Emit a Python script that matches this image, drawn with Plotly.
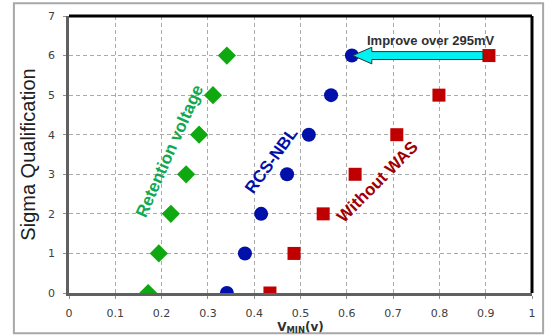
import plotly.graph_objects as go

sigma = [0, 1, 2, 3, 4, 5, 6]
retention_v = [0.171, 0.194, 0.220, 0.253, 0.281, 0.311, 0.341]
rcs_nbl_v = [0.341, 0.380, 0.415, 0.471, 0.518, 0.566, 0.611]
without_was_v = [0.434, 0.486, 0.549, 0.618, 0.708, 0.799, 0.907]
x_ticks = [0, 0.1, 0.2, 0.3, 0.4, 0.5, 0.6, 0.7, 0.8, 0.9, 1]
x_tick_text = ["0", "0.1", "0.2", "0.3", "0.4", "0.5", "0.6", "0.7", "0.8", "0.9", "1"]
y_ticks = [0, 1, 2, 3, 4, 5, 6, 7]

GREEN = "#10A810"
BLUE = "#0010A8"
RED = "#C00000"
LAB = "Liberation Sans"

fig = go.Figure()
fig.add_trace(go.Scatter(x=retention_v, y=sigma, mode="markers",
                         marker=dict(symbol="diamond", size=14, color=GREEN)))
fig.add_trace(go.Scatter(x=rcs_nbl_v, y=sigma, mode="markers",
                         marker=dict(symbol="circle", size=14, color=BLUE)))
fig.add_trace(go.Scatter(x=without_was_v, y=sigma, mode="markers",
                         marker=dict(symbol="square", size=13, color=RED)))

# Arrow from "without WAS" to "RCS-NBL" at sigma 6
tip = rcs_nbl_v[6] + 0.002
tail = without_was_v[6] - 0.013
yc = sigma[6]
hb = tip + 0.041
sh, hh = 0.10, 0.21
path = (f"M {tail},{yc+sh} L {hb},{yc+sh} L {hb},{yc+hh} L {tip},{yc} "
        f"L {hb},{yc-hh} L {hb},{yc-sh} L {tail},{yc-sh} Z")
shapes = [
    dict(type="path", path=path, xref="x", yref="y", fillcolor="#00F2F2",
         line=dict(color="#303030", width=1)),
    # outer frame
    dict(type="rect", xref="paper", yref="paper", x0=-0.119, x1=1.024, y0=-0.145, y1=1.046,
         line=dict(color="#A8A8A8", width=2), layer="below"),
    # top & right black frame
    dict(type="line", xref="paper", yref="paper", x0=0, x1=1, y0=1, y1=1,
         line=dict(color="#000000", width=3)),
    dict(type="line", xref="paper", yref="paper", x0=1, x1=1, y0=0, y1=1,
         line=dict(color="#000000", width=3)),
]

annotations = [
    dict(x=0.781, y=6.38, xref="x", yref="y", text="<b>Improve over 295mV</b>",
         showarrow=False, font=dict(family=LAB, size=13, color="#303030")),
    dict(x=0.218, y=3.6, xref="x", yref="y", text="<b>Retention voltage</b>",
         showarrow=False, textangle=-66, font=dict(family=LAB, size=17, color="#10A850")),
    dict(x=0.437, y=3.35, xref="x", yref="y", text="<b>RCS-NBL</b>",
         showarrow=False, textangle=-54, font=dict(family=LAB, size=17, color=BLUE)),
    dict(x=0.667, y=2.82, xref="x", yref="y", text="<b>Without WAS</b>",
         showarrow=False, textangle=-45, font=dict(family=LAB, size=17, color="#A00000")),
]

fig.update_layout(
    width=550, height=336,
    margin=dict(l=69, r=18, t=16, b=43),
    paper_bgcolor="white", plot_bgcolor="white",
    showlegend=False,
    shapes=shapes, annotations=annotations,
    font=dict(family="DejaVu Sans", size=11, color="#404040"),
    xaxis=dict(range=[0, 1], tickvals=x_ticks, ticktext=x_tick_text,
               automargin=False,
               showgrid=True, gridcolor="#AAAAAA", griddash="4px,3px", gridwidth=1.3,
               showline=True, linecolor="#606060", linewidth=2.5,
               ticks="outside", ticklen=3, tickcolor="#909090",
               ticklabelstandoff=5,
               zeroline=False,
               title=dict(text="<b>V<sub>MIN</sub>(v)</b>", standoff=0,
                          font=dict(family="DejaVu Sans", size=12, color="#303030"))),
    yaxis=dict(range=[0, 7], tickvals=y_ticks,
               automargin=False,
               showgrid=True, gridcolor="#AAAAAA", griddash="4px,3px", gridwidth=1.3,
               showline=True, linecolor="#606060", linewidth=2.5,
               ticks="outside", ticklen=3, tickcolor="#909090",
               ticklabelstandoff=6,
               zeroline=False,
               title=dict(text="Sigma Qualification", standoff=8,
                          font=dict(family=LAB, size=20, color="#202020"))),
)

fig.write_html("out.html")
